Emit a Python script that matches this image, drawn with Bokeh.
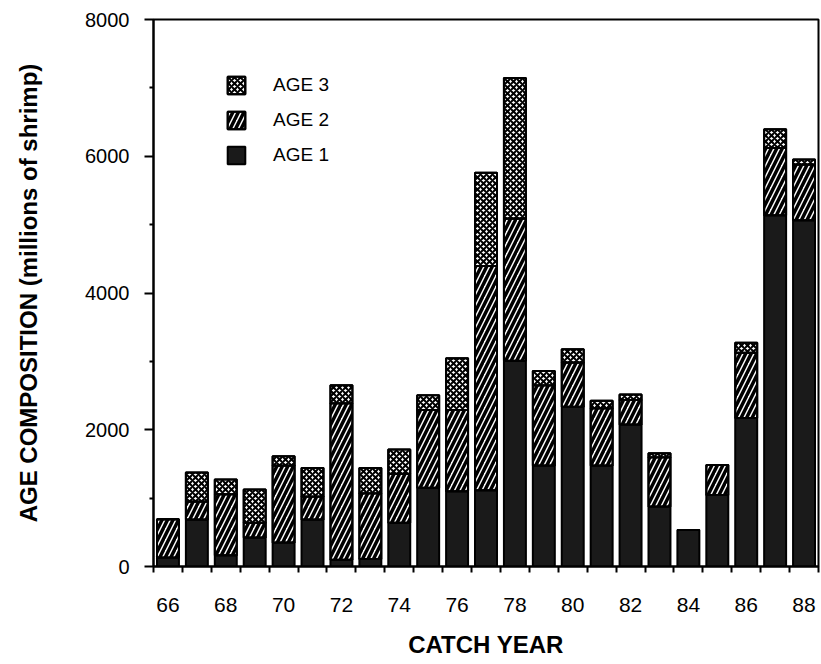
import numpy as np
from bokeh.plotting import figure
from bokeh.models import ColumnDataSource, FixedTicker, Legend, LegendItem, Range1d
from bokeh.embed import file_html
from bokeh.resources import INLINE

years = [66, 67, 68, 69, 70, 71, 72, 73, 74, 75, 76, 77, 78, 79, 80, 81, 82, 83, 84, 85, 86, 87, 88]
age1 = [130, 686, 165, 424, 352, 686, 100, 110, 639, 1150, 1100, 1117, 3008, 1476, 2338, 1476, 2075, 879, 534, 1046, 2171, 5137, 5065]
age2 = [560, 264, 890, 215, 1124, 336, 2286, 960, 718, 1140, 1190, 3279, 2082, 1173, 646, 838, 359, 717, 0, 440, 956, 982, 814]
age3 = [0, 426, 216, 488, 135, 417, 263, 370, 354, 215, 756, 1364, 2053, 211, 192, 110, 81, 62, 0, 0, 144, 277, 72]
labels = ["AGE 1", "AGE 2", "AGE 3"]
x_tick_labels = [66, 68, 70, 72, 74, 76, 78, 80, 82, 84, 86, 88]
y_ticks = [0, 2000, 4000, 6000, 8000]

a1 = np.array(age1, dtype=float)
a2 = np.array(age2, dtype=float)
a3 = np.array(age3, dtype=float)
source = ColumnDataSource(dict(
    year=years,
    b1=np.zeros(len(years)), t1=a1,
    b2=a1, t2=a1 + a2,
    b3=a1 + a2, t3=a1 + a2 + a3,
))

FONT = "Liberation Sans"

p = figure(width=820, height=660, output_backend="svg", toolbar_location=None,
           x_range=Range1d(65.5, 88.5), y_range=Range1d(0, 8000),
           min_border_left=153, min_border_right=2, min_border_top=19, min_border_bottom=85)

W = 0.76
styles = [
    dict(fill="#1a1a1a", hatch=None, hw=1, hs=4),
    dict(fill="white", hatch="/", hw=3.5, hs=11),
    dict(fill="white", hatch="x", hw=2.0, hs=6),
]
legend_renderers = []
for i, st in enumerate(styles):
    k = str(i + 1)
    rs = []
    rs.append(p.vbar(x="year", bottom="b" + k, top="t" + k, width=W, source=source,
                     fill_color=st["fill"], line_color="black", line_width=2))
    if st["hatch"]:
        rs.append(p.vbar(x="year", bottom="b" + k, top="t" + k, width=W, source=source,
                         fill_alpha=0, line_color="black", line_width=2,
                         hatch_pattern=st["hatch"], hatch_color="black",
                         hatch_weight=st["hw"], hatch_scale=st["hs"]))
    legend_renderers.append(rs)

p.xgrid.visible = False
p.ygrid.visible = False
p.outline_line_color = "black"
p.outline_line_width = 2
p.background_fill_color = "white"
p.border_fill_color = "white"

# x axis
p.xaxis.ticker = FixedTicker(ticks=x_tick_labels, minor_ticks=[y + 0.5 for y in range(65, 89)])
p.xaxis.major_tick_out = 0
p.xaxis.major_tick_in = 0
p.xaxis.minor_tick_out = 6
p.xaxis.minor_tick_in = 0
p.xaxis.minor_tick_line_width = 2
p.xaxis.major_label_standoff = 25
p.xaxis.major_label_text_font = FONT
p.xaxis.major_label_text_font_size = "21px"
p.xaxis.axis_label = "CATCH YEAR"
p.xaxis.axis_label_text_font = FONT
p.xaxis.axis_label_text_font_style = "bold"
p.xaxis.axis_label_text_font_size = "24px"
p.xaxis.axis_label_standoff = 16

# y axis
p.yaxis.ticker = FixedTicker(ticks=y_ticks, minor_ticks=[1000, 3000, 5000, 7000])
p.yaxis.major_tick_out = 9
p.yaxis.major_tick_in = 0
p.yaxis.minor_tick_out = 4
p.yaxis.minor_tick_in = 0
p.yaxis.major_tick_line_width = 2
p.yaxis.minor_tick_line_width = 2
p.yaxis.major_label_standoff = 15
p.yaxis.major_label_text_font = FONT
p.yaxis.major_label_text_font_size = "20px"
p.yaxis.axis_label = "AGE COMPOSITION (millions of shrimp)"
p.yaxis.axis_label_text_font = FONT
p.yaxis.axis_label_text_font_style = "bold"
p.yaxis.axis_label_text_font_size = "24px"
p.yaxis.axis_label_standoff = 40

for ax in (p.xaxis, p.yaxis):
    ax.axis_line_width = 2
    ax.axis_line_color = "black"
    ax.major_label_text_color = "black"
    ax.axis_label_text_color = "black"

items = [LegendItem(label=labels[i], renderers=legend_renderers[i]) for i in (2, 1, 0)]
legend = Legend(items=items, location=(72, 400), orientation="vertical",
                glyph_width=22, glyph_height=22, spacing=13, padding=0,
                label_standoff=26, label_text_font=FONT, label_text_font_size="19px",
                label_text_color="black",
                border_line_color=None, background_fill_alpha=0)
p.add_layout(legend, "center")

open("out.html", "w").write(file_html(p, INLINE))
